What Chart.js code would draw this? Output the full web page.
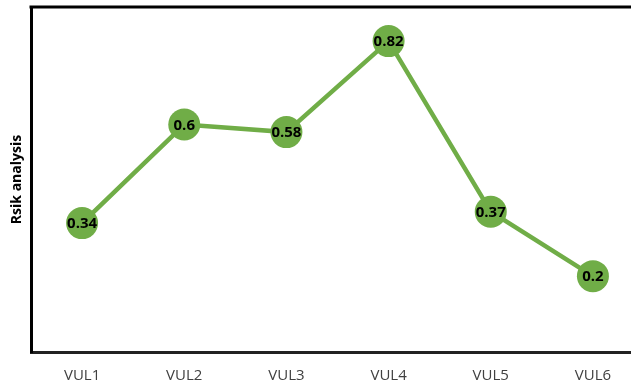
<!DOCTYPE html>
<html>
<head>
<meta charset="utf-8">
<script src="https://cdn.jsdelivr.net/npm/chart.js@4/dist/chart.umd.min.js"></script>
<style>
  html, body { margin: 0; padding: 0; background: #fff; overflow: hidden; }
  #wrap { width: 650px; height: 385px; position: relative; }
</style>
</head>
<body>
<div id="wrap"><canvas id="c"></canvas></div>
<script>
// Risk score per vulnerability
const categories = ['VUL1', 'VUL2', 'VUL3', 'VUL4', 'VUL5', 'VUL6'];
const riskValues = [0.34, 0.6, 0.58, 0.82, 0.37, 0.2];
const yTitle = 'Rsik analysis';

const GREEN = '#70AD47';
const FONT = '"Open Sans", "Liberation Sans", sans-serif';

// Value labels centred on each marker
const valueLabels = {
  id: 'valueLabels',
  afterDatasetsDraw(chart) {
    const ctx = chart.ctx;
    const meta = chart.getDatasetMeta(0);
    ctx.save();
    ctx.font = 'bold 15px ' + FONT;
    ctx.fillStyle = '#000';
    ctx.textAlign = 'center';
    ctx.textBaseline = 'middle';
    meta.data.forEach((pt, i) => {
      ctx.fillText(String(riskValues[i]), pt.x, pt.y + 1);
    });
    ctx.restore();
  }
};

// Top edge of the plot frame
const topFrame = {
  id: 'topFrame',
  beforeDatasetsDraw(chart) {
    const { ctx, chartArea } = chart;
    ctx.save();
    ctx.strokeStyle = '#000';
    ctx.lineWidth = 3;
    ctx.beginPath();
    ctx.moveTo(chartArea.left - 1.5, chartArea.top);
    ctx.lineTo(chartArea.right + 20, chartArea.top);
    ctx.stroke();
    ctx.restore();
  }
};

new Chart(document.getElementById('c'), {
  type: 'line',
  data: {
    labels: categories,
    datasets: [{
      data: riskValues,
      borderColor: GREEN,
      borderWidth: 4.5,
      tension: 0,
      pointRadius: 16,
      pointHoverRadius: 16,
      pointBackgroundColor: GREEN,
      pointBorderColor: GREEN,
      pointBorderWidth: 0
    }]
  },
  options: {
    responsive: true,
    maintainAspectRatio: false,
    animation: false,
    layout: { autoPadding: false, padding: { top: 7, right: 6, left: 0, bottom: 0 } },
    plugins: { legend: { display: false }, tooltip: { enabled: false } },
    scales: {
      x: {
        offset: true,
        grid: { display: false, drawTicks: false },
        border: { display: true, color: '#222', width: 3 },
        ticks: {
          padding: 15,
          color: '#404040',
          font: { family: FONT, size: 15 }
        },
        afterFit(s) { s.height = 33; }
      },
      y: {
        min: 0,
        max: 0.91,
        grid: { display: false, drawTicks: false },
        border: { display: true, color: '#000', width: 3 },
        ticks: { display: false },
        title: {
          display: true,
          text: yTitle,
          color: '#000',
          padding: { top: 9, bottom: 0 },
          font: { family: FONT, size: 14, weight: 'bold' }
        },
        afterFit(s) { s.width = 31; }
      }
    }
  },
  plugins: [topFrame, valueLabels]
});
</script>
</body>
</html>
